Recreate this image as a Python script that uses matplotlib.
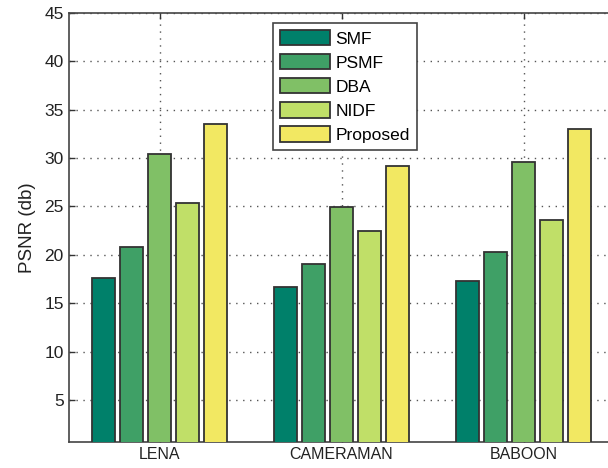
import numpy as np
import matplotlib
matplotlib.use("Agg")
import matplotlib.pyplot as plt

# ========= 数据 =========
images = ["LENA", "CAMERAMAN", "BABOON"]
methods = ["SMF", "PSMF", "DBA", "NIDF", "Proposed"]
smf = [17.6, 16.7, 17.3]
psmf = [20.8, 19.1, 20.3]
dba = [30.4, 24.9, 29.6]
nidf = [25.3, 22.5, 23.6]
proposed = [33.5, 29.2, 33.0]
colors = ["#00806a", "#3fa066", "#80c066", "#c0df68", "#f2e862"]

series = [smf, psmf, dba, nidf, proposed]

plt.rcParams["font.family"] = ["Liberation Sans", "DejaVu Sans"]

fig = plt.figure(figsize=(6.08, 4.68), dpi=100)
ax = fig.add_axes([0.1127, 0.0562, 0.898, 0.9167])

# MATLAB 风格的分组柱状图
n = len(methods)
group_w = min(0.8, n / (n + 1.5))
step = group_w / n
bar_w = step * 0.8
x = np.arange(1, len(images) + 1)

for i, (vals, name, c) in enumerate(zip(series, methods, colors)):
    offs = (i - (n - 1) / 2) * step
    ax.bar(x + offs, vals, width=bar_w, color=c, edgecolor="#333333",
           linewidth=1.3, label=name, zorder=3)

ax.set_xlim(0.5, 3.5)
ax.set_ylim(0.7, 45)
ax.set_xticks(x)
ax.set_xticklabels(images, fontsize=11.5)
ax.set_yticks(np.arange(5, 46, 5))
ax.tick_params(axis="y", labelsize=12.5)
ax.tick_params(direction="in", length=4, width=1, colors="#333333",
               top=True, right=True, labelcolor="#222222")
ax.set_ylabel("PSNR (db)", fontsize=13.5, color="#222222", labelpad=6)

ax.grid(True, linestyle=(0, (1, 4)), color="#555555", linewidth=1.0, zorder=0)
ax.set_axisbelow(True)
for s in ax.spines.values():
    s.set_color("#444444")
    s.set_linewidth(1.2)

leg = ax.legend(loc="upper left", bbox_to_anchor=(273 / 608, 1 - 23 / 468),
                bbox_transform=fig.transFigure, fontsize=12.5, handlelength=2.9,
                handleheight=1.0, labelspacing=0.42, borderpad=0.4,
                handletextpad=0.3, borderaxespad=0, fancybox=False,
                framealpha=1, edgecolor="#444444")
leg.get_frame().set_linewidth(1.2)

fig.savefig("out.png", dpi=100)
